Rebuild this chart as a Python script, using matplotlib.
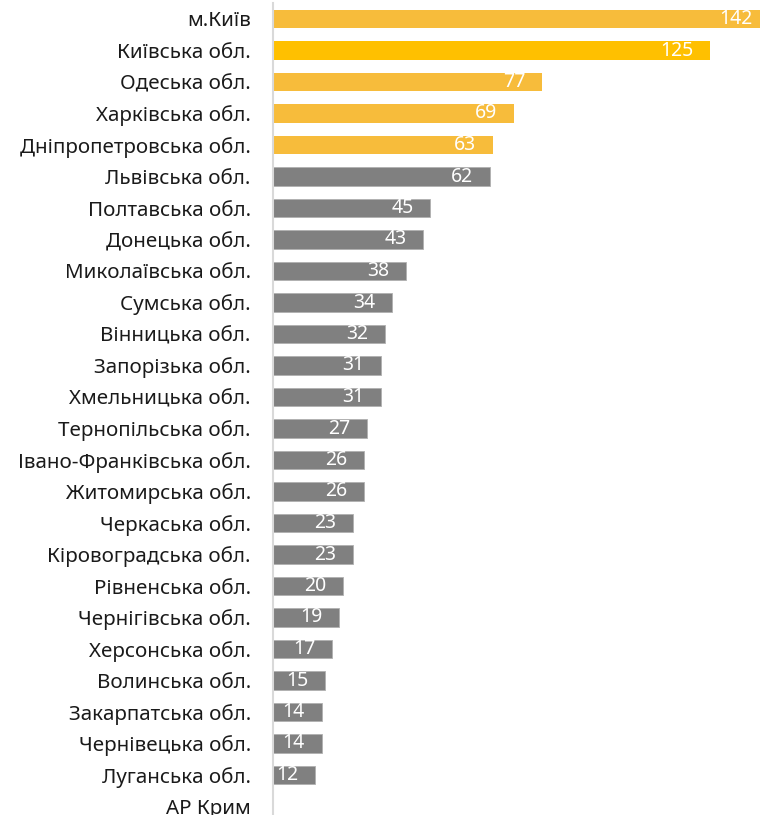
import matplotlib
matplotlib.use("Agg")
import matplotlib.pyplot as plt

categories = ["м.Київ", "Київська обл.", "Одеська обл.", "Харківська обл.",
              "Дніпропетровська обл.", "Львівська обл.", "Полтавська обл.",
              "Донецька обл.", "Миколаївська обл.", "Сумська обл.",
              "Вінницька обл.", "Запорізька обл.", "Хмельницька обл.",
              "Тернопільська обл.", "Івано-Франківська обл.", "Житомирська обл.",
              "Черкаська обл.", "Кіровоградська обл.", "Рівненська обл.",
              "Чернігівська обл.", "Херсонська обл.", "Волинська обл.",
              "Закарпатська обл.", "Чернівецька обл.", "Луганська обл.", "АР Крим"]
values = [142, 125, 77, 69, 63, 62, 45, 43, 38, 34, 32, 31, 31, 27, 26, 26,
          23, 23, 20, 19, 17, 15, 14, 14, 12, 0]

YELLOW = "#F7BC3B"
YELLOW2 = "#FFC000"
GRAY = "#808080"
colors = []
for i, v in enumerate(values):
    if i == 1:
        colors.append(YELLOW2)
    elif i < 5:
        colors.append(YELLOW)
    else:
        colors.append(GRAY)

plt.rcParams['font.family'] = ['Noto Sans', 'DejaVu Sans']

fig = plt.figure(figsize=(7.6, 8.15), dpi=100)
ax = fig.add_axes([273/760, -7.25/815, 487/760, 819/815])

n = len(categories)
ypos = list(range(n))
bars = ax.barh(ypos, values, height=0.58, color=colors, edgecolor=[
    ("#FFFFFF00" if c != GRAY else "#B0B0B0") for c in colors], linewidth=0.6)

ax.set_ylim(n - 0.5, -0.5)
ax.set_xlim(0, 139.2)
ax.set_yticks(ypos)
ax.set_yticklabels(categories, fontsize=14.8, color="#1a1a1a")
ax.tick_params(axis='y', length=0, pad=16)
ax.set_xticks([])
for s in ['top', 'right', 'bottom']:
    ax.spines[s].set_visible(False)
ax.spines['left'].set_color("#D9D9D9")
ax.spines['left'].set_linewidth(1.5)

for y, v in zip(ypos, values):
    if v > 0:
        ax.annotate(str(v), xy=(v, y), xytext=(-17, 0), textcoords='offset pixels',
                    ha='right', va='center', color='white', fontsize=14,
                    annotation_clip=False)

fig.savefig("out.png", dpi=100)
